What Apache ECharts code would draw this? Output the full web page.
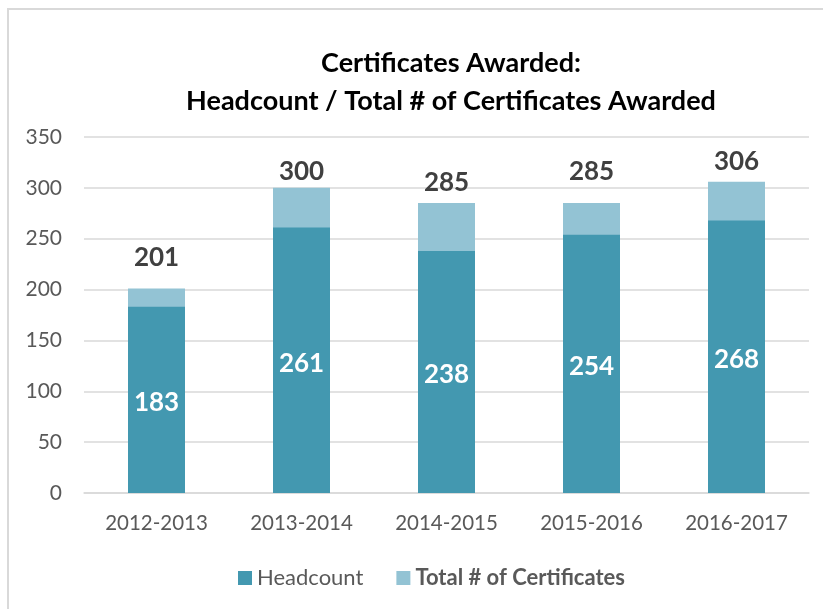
<!DOCTYPE html>
<html>
<head>
<meta charset="utf-8">
<script src="https://cdn.jsdelivr.net/npm/echarts@6/dist/echarts.min.js"></script>
<style>html,body{margin:0;padding:0;background:#fff;}#c{width:823px;height:609px;}</style>
</head>
<body>
<div id="c"></div>
<script>
const categories = ['2012-2013', '2013-2014', '2014-2015', '2015-2016', '2016-2017'];
const headcount = [183, 261, 238, 254, 268];
const totalCertificates = [201, 300, 285, 285, 306];
const yTicks = [0, 50, 100, 150, 200, 250, 300, 350];
// per-label vertical nudges (pixels) for the total labels, as placed in the original
const totalLabelNudge = [-18, -3, -8, -19, -7];

const FONT = 'Lato';
const chart = echarts.init(document.getElementById('c'), null, {renderer: 'canvas'});
chart.setOption({
  animation: false,
  backgroundColor: '#ffffff',
  title: {
    text: 'Certificates Awarded:\nHeadcount / Total # of Certificates Awarded',
    left: 446, top: 39, textAlign: 'center',
    textStyle: {fontFamily: FONT, fontWeight: 'bold', fontSize: 27, color: '#000', lineHeight: 38}
  },
  graphic: [
    {type: 'line', shape: {x1: 8, y1: 8, x2: 8, y2: 609}, style: {stroke: '#d9d9d9', lineWidth: 2}},
    {type: 'line', shape: {x1: 7, y1: 9, x2: 823, y2: 9}, style: {stroke: '#d9d9d9', lineWidth: 2}}
  ],
  legend: {
    top: 562, left: 233,
    itemWidth: 14, itemHeight: 14, itemGap: 33,
    icon: 'rect',
    textStyle: {fontFamily: FONT, fontSize: 22, color: '#595959'},
    data: [
      {name: 'Headcount'},
      {name: 'Total # of Certificates', textStyle: {fontWeight: 'bold'}}
    ]
  },
  grid: {left: 84, right: 14, top: 137, bottom: 116},
  xAxis: {
    type: 'category', data: categories,
    axisLine: {lineStyle: {color: '#d9d9d9', width: 1.5}},
    axisTick: {show: false},
    axisLabel: {fontFamily: FONT, fontSize: 20.5, color: '#595959', margin: 20}
  },
  yAxis: {
    type: 'value', min: yTicks[0], max: yTicks[yTicks.length - 1], interval: 50,
    axisLine: {show: false}, axisTick: {show: false},
    splitLine: {lineStyle: {color: '#d9d9d9', width: 1.5}},
    axisLabel: {fontFamily: FONT, fontSize: 21, color: '#595959', margin: 22}
  },
  series: [
    {
      name: 'Headcount', type: 'bar', data: headcount, barWidth: 57, barGap: '-100%', z: 3,
      itemStyle: {color: '#4398b0'},
      label: {show: true, position: 'inside', offset: [0, 3], fontFamily: FONT, fontWeight: 'bold', fontSize: 26, color: '#fff'}
    },
    {
      name: 'Total # of Certificates', type: 'bar', barWidth: 57, barGap: '-100%', z: 2,
      data: totalCertificates.map((v, i) => ({value: v, label: {offset: [0, totalLabelNudge[i]]}})),
      itemStyle: {color: '#93c3d4'},
      label: {show: true, position: 'top', distance: 0, fontFamily: FONT, fontWeight: 'bold', fontSize: 26, color: '#404040'}
    }
  ]
});
</script>
</body>
</html>
